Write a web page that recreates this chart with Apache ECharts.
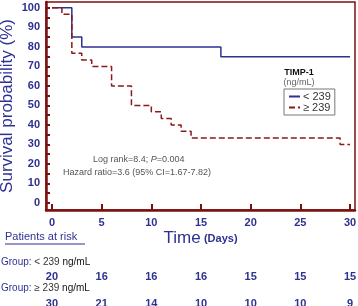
<!DOCTYPE html>
<html>
<head>
<meta charset="utf-8">
<script src="https://cdn.jsdelivr.net/npm/echarts@6/dist/echarts.min.js"></script>
<style>
html,body{margin:0;padding:0;background:#fff;}
#km{width:358px;height:306px;}
</style>
</head>
<body>
<div id="km"></div>
<script>
// KM steps (day, survival %)
var lowDays = [0, 2, 3, 17, 30];
var lowSurv = [100, 85, 80, 75, 75];
var highDays = [0, 1, 2, 3, 4, 6, 8, 10, 11, 12, 13, 14, 29, 30];
var highSurv = [100, 96.7, 76.7, 73.3, 70, 60, 50, 46.7, 43.3, 40, 36.7, 33.3, 30, 30];

var tickDays = [0, 5, 10, 15, 20, 25, 30];
var riskLow = [20, 16, 16, 16, 15, 15, 15];
var riskHigh = [30, 21, 14, 10, 10, 10, 9];
var yLabels = [0, 10, 20, 30, 40, 50, 60, 70, 80, 90, 100];
var yTicks = [0, 5, 10, 15, 20, 25, 30, 35, 40, 45, 50, 55, 60, 65, 70, 75, 80, 85, 90, 95, 100];

var blue = '#2e3192';
var red = '#8b1a1a';
var axisRed = '#7a1010';
var font = 'Liberation Sans, Arial, sans-serif';

function pairs(xs, ys){
	var out = [];
	for (var i = 0; i < xs.length; i++) out.push([xs[i], ys[i]]);
	return out;
}

// extra x-axes just to place the at-risk numbers under each tick
function riskAxis(vals, off){
	return {
		type: 'value', min: -0.6, max: 30.5, position: 'bottom', offset: off,
		axisLine: {show: false, onZero: false}, axisTick: {show: false}, splitLine: {show: false},
		axisLabel: {
			customValues: tickDays, color: blue, fontSize: 11, fontWeight: 'bold', fontFamily: font,
			formatter: function(v){ return vals[tickDays.indexOf(v)]; }
		}
	};
}

var option = {
	animation: false,
	grid: {left: 46, right: 3, top: 2, bottom: 96, show: true, borderColor: axisRed, borderWidth: 1.5, outerBoundsMode: 'none', containLabel: false},
	xAxis: [{
		type: 'value', min: -0.6, max: 30.5,
		axisLine: {onZero: false, lineStyle: {color: axisRed, width: 2.5}},
		axisTick: {customValues: tickDays, inside: true, length: 6, lineStyle: {color: axisRed, width: 2}},
		splitLine: {show: false},
		axisLabel: {customValues: tickDays, color: blue, fontSize: 11, fontWeight: 'bold', fontFamily: font, margin: 7},
		name: '{a|Time} {b|(Days)}', nameLocation: 'middle', nameGap: 20, nameMoveOverlap: false,
		nameTextStyle: {rich: {
			a: {fontSize: 17, color: blue, fontFamily: font},
			b: {fontSize: 11, color: blue, fontWeight: 'bold', fontFamily: font}
		}}
	}, riskAxis(riskLow, 53), riskAxis(riskHigh, 80)],
	yAxis: {
		type: 'value', min: -3.6, max: 103,
		axisLine: {onZero: false, lineStyle: {color: axisRed, width: 2.5}},
		axisTick: {customValues: yTicks, inside: true, length: 4, lineStyle: {color: axisRed, width: 2}},
		splitLine: {show: false},
		axisLabel: {customValues: yLabels, color: blue, fontSize: 11, fontWeight: 'bold', fontFamily: font, margin: 6},
		name: 'Survival probability (%)', nameLocation: 'middle', nameGap: 30, nameMoveOverlap: false,
		nameTextStyle: {fontSize: 17, color: blue, fontFamily: font}
	},
	legend: {
		orient: 'vertical', left: 284, top: 89, width: 49,
		padding: [2, 4, 2, 4], itemGap: 0, itemWidth: 11, itemHeight: 10,
		borderColor: '#777', borderWidth: 1, backgroundColor: '#fff',
		itemStyle: {opacity: 0},
		textStyle: {fontSize: 11, color: '#333', fontFamily: font, padding: [0, 0, 0, -2]},
		data: ['< 239', '≥ 239']
	},
	series: [{
		name: '< 239', type: 'line', step: 'end', symbol: 'none',
		lineStyle: {color: blue, width: 1.5}, itemStyle: {color: blue},
		data: pairs(lowDays, lowSurv)
	}, {
		name: '≥ 239', type: 'line', step: 'end', symbol: 'none',
		lineStyle: {color: red, width: 1.5, type: [6, 3]}, itemStyle: {color: red},
		data: pairs(highDays, highSurv)
	}],
	graphic: [
		{type: 'text', style: {x: 299, y: 68, text: 'TIMP-1', textAlign: 'center', fill: '#111', font: 'bold 9px ' + font}},
		{type: 'text', style: {x: 299, y: 78, text: '(ng/mL)', textAlign: 'center', fill: '#666', font: '9px ' + font}},
		{type: 'text', left: 93, top: 155, style: {
			text: '{n|Log rank=8.4; }{i|P}{n|=0.004}',
			rich: {n: {fontSize: 9, fill: '#555', fontFamily: font}, i: {fontSize: 9, fill: '#555', fontStyle: 'italic', fontFamily: font}}
		}},
		{type: 'text', left: 63, top: 168, style: {text: 'Hazard ratio=3.6 (95% CI=1.67-7.82)', fill: '#555', font: '9px ' + font}},
		{type: 'text', left: 5, top: 231, style: {text: 'Patients at risk', fill: blue, font: '11px ' + font}},
		{type: 'line', shape: {x1: 5, y1: 244, x2: 85, y2: 244}, style: {stroke: blue, lineWidth: 1}},
		{type: 'text', left: 1, top: 257, style: {
			text: '{g|Group: }{v|< 239 }{u|ng/mL}',
			rich: {g: {fontSize: 10, fill: blue, fontFamily: font}, v: {fontSize: 10, fill: '#333', fontFamily: font}, u: {fontSize: 10, fill: '#111', fontFamily: font}}
		}},
		{type: 'text', left: 1, top: 283, style: {
			text: '{g|Group: }{v|≥ 239 }{u|ng/mL}',
			rich: {g: {fontSize: 10, fill: blue, fontFamily: font}, v: {fontSize: 10, fill: '#333', fontFamily: font}, u: {fontSize: 10, fill: '#111', fontFamily: font}}
		}}
	]
};

var myChart_km = echarts.init(document.getElementById('km'));
myChart_km.setOption(option);
</script>
</body>
</html>
